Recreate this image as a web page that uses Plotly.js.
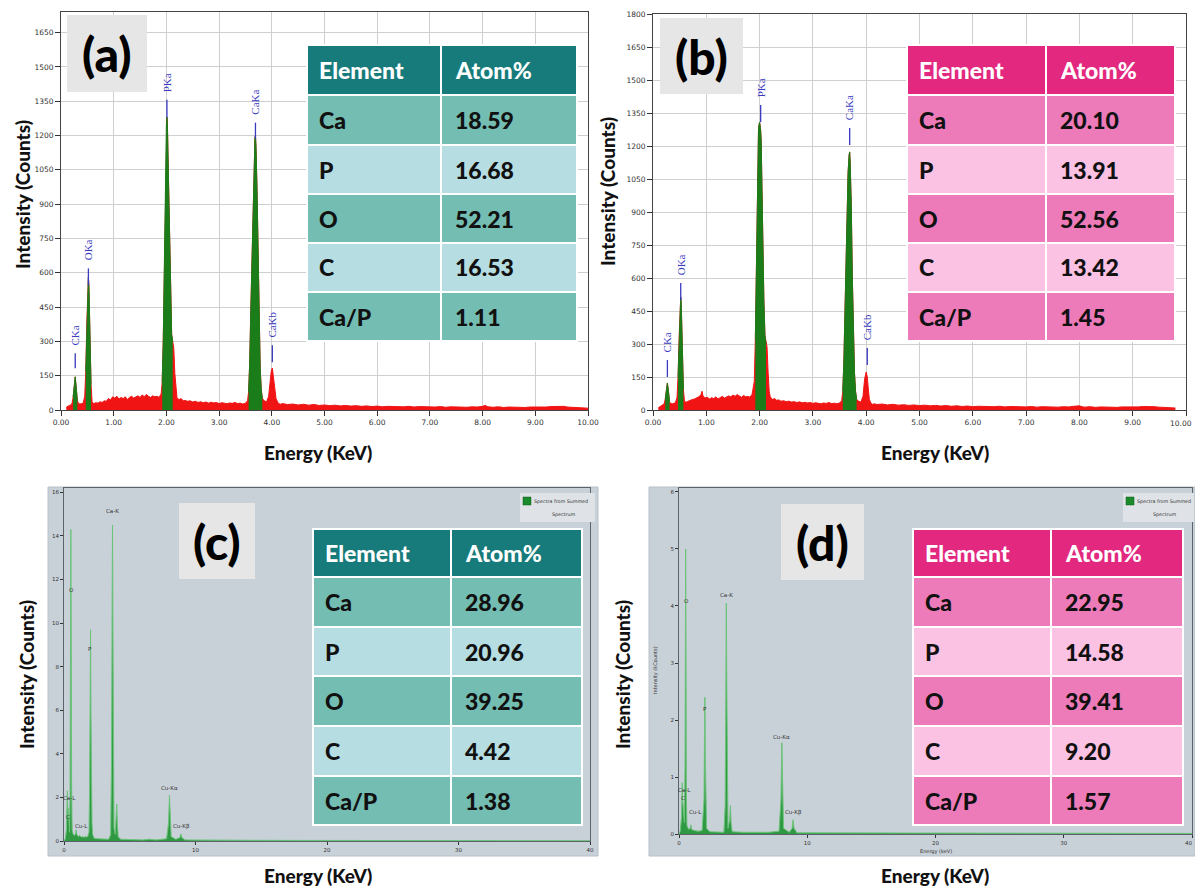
<!DOCTYPE html>
<html><head><meta charset="utf-8">
<script src="https://cdn.plot.ly/plotly-3.0.1.min.js"></script>
<style>body{margin:0;background:#fff}#chart{width:1195px;height:887px}</style>
</head><body><div id="chart"></div>
<script>
// ---------------- DATA ----------------
const elements = ['Ca','P','O','C','Ca/P'];
const tableHeader = ['Element','Atom%'];
const atomA = ['18.59','16.68','52.21','16.53','1.11'];
const atomB = ['20.10','13.91','52.56','13.42','1.45'];
const atomC = ['28.96','20.96','39.25','4.42','1.38'];
const atomD = ['22.95','14.58','39.41','9.20','1.57'];

// Panel (a) spectrum (keV, counts)
const energyA = [0.10,0.13,0.16,0.19,0.21,0.23,0.25,0.27,0.29,0.31,0.33,0.36,0.39,0.42,0.45,0.47,0.49,0.51,0.52,0.53,0.55,0.57,0.59,0.62,0.66,0.70,0.74,0.78,0.82,0.86,0.90,0.94,0.98,1.02,1.06,1.10,1.14,1.18,1.22,1.26,1.30,1.34,1.38,1.42,1.46,1.50,1.54,1.58,1.62,1.66,1.70,1.74,1.78,1.82,1.86,1.90,1.92,1.94,1.96,1.98,2.00,2.01,2.02,2.04,2.06,2.08,2.10,2.12,2.14,2.16,2.18,2.20,2.24,2.28,2.32,2.36,2.40,2.45,2.50,2.55,2.60,2.65,2.70,2.75,2.80,2.85,2.90,2.95,3.00,3.05,3.10,3.15,3.20,3.25,3.30,3.35,3.40,3.45,3.50,3.54,3.56,3.58,3.60,3.62,3.64,3.66,3.68,3.69,3.70,3.72,3.74,3.76,3.78,3.80,3.82,3.86,3.90,3.94,3.97,3.99,4.01,4.03,4.05,4.08,4.12,4.16,4.20,4.30,4.40,4.50,4.60,4.70,4.80,4.90,5.00,5.10,5.20,5.30,5.40,5.50,5.60,5.70,5.80,5.90,6.00,6.10,6.20,6.30,6.40,6.50,6.60,6.70,6.80,6.90,7.00,7.10,7.20,7.30,7.40,7.50,7.60,7.70,7.80,7.90,8.00,8.05,8.10,8.20,8.30,8.40,8.50,8.60,8.70,8.80,8.90,9.00,9.10,9.20,9.30,9.40,9.50,9.55,9.60,9.70,9.80,9.90,10.00];
const countsA = [12,18,20,22,30,55,100,145,95,40,30,26,28,30,60,170,380,520,580,540,300,110,35,28,32,30,36,33,40,38,50,44,58,52,60,48,55,50,58,46,55,60,52,57,62,55,66,58,68,60,55,62,58,60,55,70,120,300,620,1000,1250,1280,1240,1000,720,480,330,300,270,160,80,55,45,50,40,42,38,40,35,38,33,36,32,35,30,34,31,33,28,32,30,27,31,29,33,28,30,26,30,40,80,200,420,640,880,1080,1190,1200,1150,960,620,380,180,90,50,40,35,60,130,170,183,150,100,50,30,25,28,24,26,22,25,21,24,20,22,19,21,18,20,17,19,16,18,15,17,14,16,15,17,14,16,13,15,14,16,13,15,12,14,13,15,12,14,13,16,20,14,12,14,11,13,12,14,11,13,12,14,13,15,16,18,16,13,11,12,10,8];

// Panel (b) spectrum
const energyB = [0.10,0.13,0.16,0.19,0.21,0.23,0.25,0.27,0.29,0.31,0.33,0.36,0.39,0.42,0.45,0.47,0.49,0.51,0.52,0.53,0.55,0.57,0.59,0.62,0.66,0.70,0.74,0.78,0.82,0.86,0.90,0.92,0.94,0.98,1.02,1.06,1.10,1.14,1.18,1.22,1.26,1.30,1.34,1.38,1.42,1.46,1.50,1.54,1.58,1.62,1.66,1.70,1.74,1.78,1.82,1.86,1.90,1.92,1.94,1.96,1.98,2.00,2.02,2.03,2.04,2.06,2.08,2.10,2.12,2.14,2.16,2.18,2.20,2.24,2.28,2.32,2.36,2.40,2.45,2.50,2.55,2.60,2.65,2.70,2.75,2.80,2.85,2.90,2.95,3.00,3.05,3.10,3.15,3.20,3.25,3.30,3.35,3.40,3.45,3.50,3.54,3.56,3.58,3.60,3.62,3.64,3.66,3.68,3.69,3.70,3.72,3.74,3.76,3.78,3.80,3.82,3.86,3.90,3.94,3.97,4.00,4.02,4.04,4.06,4.09,4.12,4.16,4.20,4.30,4.40,4.50,4.60,4.70,4.80,4.90,5.00,5.10,5.20,5.30,5.40,5.50,5.60,5.70,5.80,5.90,6.00,6.10,6.20,6.30,6.40,6.50,6.60,6.70,6.80,6.90,7.00,7.10,7.20,7.30,7.40,7.50,7.60,7.70,7.80,7.90,8.00,8.05,8.10,8.20,8.30,8.40,8.50,8.60,8.70,8.80,8.90,9.00,9.10,9.20,9.30,9.40,9.50,9.60,9.70,9.80,9.90,10.00];
const countsB = [10,16,20,24,28,50,90,123,85,38,30,28,30,34,55,150,330,460,513,480,260,95,40,35,40,45,48,50,55,60,70,85,62,55,58,50,56,52,60,50,56,62,54,58,64,60,68,62,70,64,58,66,60,62,58,72,130,320,650,1050,1280,1309,1270,1220,1050,760,500,340,300,286,170,85,60,48,52,44,46,40,42,38,40,36,38,34,37,33,35,32,34,30,33,31,28,32,30,34,29,31,28,32,42,85,210,430,650,900,1080,1160,1173,1120,930,600,360,170,85,48,40,36,62,140,173,150,95,48,30,26,28,25,27,23,26,22,24,21,23,20,22,19,21,18,20,17,19,16,18,15,17,16,18,15,17,14,16,15,17,14,16,13,15,14,16,13,15,14,17,19,15,13,15,12,14,13,15,12,14,13,15,14,16,17,15,13,12,11,9];

// Panel (c) spectrum (keV, kCounts)
const energyC = [0.00,0.10,0.18,0.22,0.26,0.28,0.32,0.35,0.38,0.42,0.46,0.49,0.52,0.55,0.58,0.62,0.70,0.80,0.88,0.93,0.98,1.10,1.20,1.30,1.40,1.50,1.60,1.70,1.80,1.90,1.95,1.99,2.02,2.05,2.09,2.13,2.18,2.30,2.60,3.00,3.40,3.55,3.62,3.66,3.69,3.72,3.76,3.80,3.90,3.96,4.01,4.06,4.12,4.30,5.00,6.00,6.50,7.00,7.80,7.95,8.02,8.08,8.15,8.50,8.80,8.90,8.97,9.20,10.0,12.0,15.0,20.0,25.0,30.0,35.0,40.0];
const countsC = [0,0.1,0.5,1.2,2.3,1.6,1.0,1.5,0.6,0.4,2.0,8.0,14.3,9.0,2.5,0.5,0.3,0.25,0.35,0.5,0.3,0.2,0.25,0.18,0.2,0.17,0.2,0.18,0.2,0.4,2.5,7.5,9.7,6.0,2.0,0.8,0.3,0.12,0.1,0.09,0.08,0.3,4.0,11.0,14.5,10.0,3.0,0.6,0.3,1.0,1.7,0.8,0.2,0.08,0.06,0.05,0.08,0.05,0.1,0.8,2.1,1.2,0.2,0.08,0.15,0.32,0.15,0.05,0.04,0.04,0.03,0.02,0.02,0.01,0.01,0.01];

// Panel (d) spectrum (keV, kCounts)
const energyD = [0.00,0.10,0.20,0.25,0.28,0.32,0.36,0.42,0.47,0.50,0.52,0.55,0.58,0.62,0.75,0.88,0.93,0.98,1.20,1.50,1.80,1.95,1.99,2.02,2.05,2.09,2.15,2.40,3.00,3.50,3.60,3.65,3.69,3.72,3.76,3.82,3.95,4.01,4.06,4.15,5.0,6.0,7.0,7.8,7.95,8.02,8.08,8.15,8.6,8.82,8.90,8.97,9.2,10.0,15.0,20.0,25.0,30.0,40.0];
const countsD = [0,0.05,0.3,0.9,0.6,0.5,0.3,0.2,1.2,3.5,5.0,3.0,0.6,0.15,0.08,0.1,0.16,0.08,0.06,0.05,0.06,0.6,1.8,2.4,1.4,0.4,0.1,0.04,0.03,0.03,0.5,2.5,4.05,2.8,0.7,0.1,0.25,0.5,0.2,0.04,0.03,0.03,0.03,0.05,0.6,1.6,0.8,0.1,0.03,0.1,0.25,0.1,0.02,0.02,0.02,0.02,0.01,0.01,0.01];

// Peak-identified (green) windows for (a) and (b)
const peakWindowsA = [[0.22,0.32],[0.46,0.58],[1.92,2.12],[3.56,3.82]];
const peakWindowsB = [[0.22,0.32],[0.46,0.58],[1.92,2.12],[3.56,3.82]];

// Peak labels (a) and (b): name, energy, marker line bottom/top (counts)
const peakNamesAB = ['CKa','OKa','PKa','CaKa','CaKb'];
const peakEA = [0.27,0.52,2.01,3.69,4.01];
const markLoA = [183,545,1278,1186,209];
const markHiA = [248,619,1356,1256,283];
const peakEB = [0.27,0.52,2.02,3.69,4.02];
const markLoB = [150,500,1309,1205,205];
const markHiB = [227,577,1386,1282,282];

// Peak labels (c) and (d)
const peakNamesCD = ['Ca-K','O','P','Cu-Kα','Cu-Kβ','Ca-L','C','Cu-L'];
const peakLabEC = [3.7,0.6,2.0,8.0,8.9,0.45,0.3,1.3];
const peakLabYC = [14.9,11.3,8.6,2.2,0.4,1.75,0.85,0.45];
const peakLabED = [3.7,0.6,2.0,8.0,8.9,0.45,0.3,1.3];
const peakLabYD = [4.1,4.0,2.1,1.62,0.28,0.68,0.55,0.3];

// Tick labels drawn at the right edge (clipped by the page in the reference)
const edgeTickB = '10.00';
const edgeTickD = '40';

// ---------------- LAYOUT HELPERS ----------------
const W = 1195, H = 887;
const PX = x => x / W;
const PY = y => 1 - y / H;

const traces = [];
const shapes = [];
const annotations = [];

function addSpectrumAB(xa, ya, E, C, windows) {
  traces.push({x:E, y:C, type:'scatter', mode:'lines', fill:'tozeroy',
    line:{color:'#f01414', width:1}, fillcolor:'#f01414', xaxis:xa, yaxis:ya, hoverinfo:'skip'});
  windows.forEach(w => {
    const xs = [], ys = [];
    E.forEach((e,i) => { if (e >= w[0] && e <= w[1]) { xs.push(e); ys.push(C[i]); } });
    traces.push({x:xs, y:ys, type:'scatter', mode:'lines', fill:'tozeroy',
      line:{color:'#1a7d1a', width:1}, fillcolor:'#1a7d1a', xaxis:xa, yaxis:ya, hoverinfo:'skip'});
  });
}
function addPeakLabelsAB(xa, ya, names, E, lo, hi) {
  names.forEach((n,i) => {
    shapes.push({type:'line', xref:xa, yref:ya, x0:E[i], x1:E[i], y0:lo[i], y1:hi[i],
      line:{color:'#3a3ac0', width:1.3}});
    annotations.push({xref:xa, yref:ya, x:E[i], y:hi[i], yshift:6, text:n, textangle:-90,
      showarrow:false, xanchor:'center', yanchor:'bottom',
      font:{family:'Liberation Serif', size:11, color:'#3a3ac0'}});
  });
}
function addSpectrumCD(xa, ya, E, C) {
  traces.push({x:E, y:C, type:'scatter', mode:'lines', fill:'tozeroy',
    line:{color:'#6cc47a', width:1}, fillcolor:'rgba(30,145,50,0.9)', xaxis:xa, yaxis:ya, hoverinfo:'skip'});
}
function addPeakLabelsCD(xa, ya, names, E, Y) {
  names.forEach((n,i) => {
    annotations.push({xref:xa, yref:ya, x:E[i], y:Y[i], text:n, showarrow:false,
      xanchor:'center', yanchor:'bottom',
      font:{family:'DejaVu Sans', size:5.5, color:'#333'}});
  });
}
function addTable(x0, xs, x1, rowY, headerColor, dark, light, values) {
  const fills = [headerColor, dark, light, dark, light, dark];
  for (let r = 0; r < 6; r++) {
    [[x0, xs], [xs, x1]].forEach(([a,b]) => {
      shapes.push({type:'rect', xref:'paper', yref:'paper', x0:PX(a), x1:PX(b), y0:PY(rowY[r+1]), y1:PY(rowY[r]),
        fillcolor:fills[r], line:{color:'#ffffff', width:2}, layer:'above'});
    });
    const yc = PY((rowY[r] + rowY[r+1]) / 2);
    const left = r === 0 ? tableHeader[0] : elements[r-1];
    const right = r === 0 ? tableHeader[1] : values[r-1];
    const col = r === 0 ? '#ffffff' : '#111111';
    annotations.push({xref:'paper', yref:'paper', x:PX(x0 + 10), y:yc, text:left, showarrow:false,
      xanchor:'left', yanchor:'middle', font:{family:'Lato', size:23, weight:900, color:col}});
    annotations.push({xref:'paper', yref:'paper', x:PX(xs + 12), y:yc, text:right, showarrow:false,
      xanchor:'left', yanchor:'middle', font:{family:'Lato', size:23, weight:900, color:col}});
  }
}
function addPanelLabel(x0, x1, y0, y1, txt) {
  shapes.push({type:'rect', xref:'paper', yref:'paper', x0:PX(x0), x1:PX(x1), y0:PY(y1), y1:PY(y0),
    fillcolor:'#e6e6e6', line:{width:0}, layer:'above'});
  annotations.push({xref:'paper', yref:'paper', x:PX((x0+x1)/2), y:PY((y0+y1)/2), text:txt,
    showarrow:false, xanchor:'center', yanchor:'middle', font:{family:'Lato', size:48, weight:900, color:'#000'}});
}
function addBigTitles(cxI, cyI, cxE, cyE) {
  annotations.push({xref:'paper', yref:'paper', x:PX(cxI), y:PY(cyI), text:'Intensity (Counts)', textangle:-90,
    showarrow:false, xanchor:'center', yanchor:'middle', font:{family:'Lato', size:19, weight:900, color:'#111'}});
  annotations.push({xref:'paper', yref:'paper', x:PX(cxE), y:PY(cyE), text:'Energy (KeV)',
    showarrow:false, xanchor:'center', yanchor:'middle', font:{family:'Lato', size:19, weight:900, color:'#111'}});
}
function addLegendBox(x0, x1, y0, y1) {
  shapes.push({type:'rect', xref:'paper', yref:'paper', x0:PX(x0), x1:PX(x1), y0:PY(y1), y1:PY(y0),
    fillcolor:'#dfe3e7', line:{width:0}, layer:'above'});
  shapes.push({type:'rect', xref:'paper', yref:'paper', x0:PX(x0+3), x1:PX(x0+11), y0:PY(y0+12), y1:PY(y0+4),
    fillcolor:'#1a8a2a', line:{color:'#0c5a14', width:0.5}, layer:'above'});
  annotations.push({xref:'paper', yref:'paper', x:PX(x0+12), y:PY(y0+8), text:'Spectra from Summed', showarrow:false,
    xanchor:'left', yanchor:'middle', font:{family:'DejaVu Sans', size:4.8, color:'#333'}});
  annotations.push({xref:'paper', yref:'paper', x:PX((x0+x1)/2+6), y:PY(y0+21), text:'Spectrum', showarrow:false,
    xanchor:'center', yanchor:'middle', font:{family:'DejaVu Sans', size:4.8, color:'#333'}});
}

// ---------------- BUILD ----------------
shapes.push({type:'rect', xref:'paper', yref:'paper', x0:PX(48), x1:PX(598), y0:PY(856), y1:PY(487),
  fillcolor:'#c8d0d8', line:{color:'#b8c0c8', width:1}, layer:'below'});
shapes.push({type:'rect', xref:'paper', yref:'paper', x0:PX(649), x1:PX(1195), y0:PY(856), y1:PY(487),
  fillcolor:'#c8d0d8', line:{color:'#b8c0c8', width:1}, layer:'below'});

addSpectrumAB('x', 'y', energyA, countsA, peakWindowsA);
addSpectrumAB('x2', 'y2', energyB, countsB, peakWindowsB);
addSpectrumCD('x3', 'y3', energyC, countsC);
addSpectrumCD('x4', 'y4', energyD, countsD);

addPeakLabelsAB('x', 'y', peakNamesAB, peakEA, markLoA, markHiA);
addPeakLabelsAB('x2', 'y2', peakNamesAB, peakEB, markLoB, markHiB);
addPeakLabelsCD('x3', 'y3', peakNamesCD, peakLabEC, peakLabYC);
addPeakLabelsCD('x4', 'y4', peakNamesCD, peakLabED, peakLabYD);

addLegendBox(520, 595, 493, 522);
addLegendBox(1123, 1194, 493, 522);

const rowsAB = [45, 95, 145, 194, 243, 292, 341];
const rowsCD = [529, 577, 627, 676, 726, 776, 825];
addTable(307, 441, 577, rowsAB, '#187b7b', '#73bdb2', '#b5dde2', atomA);
addTable(907, 1046, 1175, rowsAB, '#e2287f', '#ee7bb9', '#fbc2e3', atomB);
addTable(313, 451, 582, rowsCD, '#187b7b', '#73bdb2', '#b5dde2', atomC);
addTable(913, 1051, 1183, rowsCD, '#e2287f', '#ee7bb9', '#fbc2e3', atomD);

addPanelLabel(67, 147, 15, 92, '(a)');
addPanelLabel(660, 743, 18, 94, '(b)');
addPanelLabel(179, 255, 503, 579, '(c)');
addPanelLabel(781, 864, 504, 580, '(d)');

addBigTitles(22, 195, 318, 452);
addBigTitles(607, 192, 935, 452);
addBigTitles(26, 675, 318, 875);
addBigTitles(622, 675, 935, 875);

annotations.push({xref:'paper', yref:'paper', x:PX(655), y:PY(670), text:'Intensity (kCounts)', textangle:-90, showarrow:false,
  xanchor:'center', yanchor:'middle', font:{family:'DejaVu Sans', size:5, color:'#333'}});
annotations.push({xref:'paper', yref:'paper', x:PX(936), y:PY(851), text:'Energy (keV)', showarrow:false,
  xanchor:'center', yanchor:'middle', font:{family:'DejaVu Sans', size:5, color:'#333'}});

// edge tick labels
annotations.push({xref:'paper', yref:'paper', x:PX(1194), y:PY(424), text:edgeTickB, showarrow:false,
  xanchor:'right', yanchor:'middle', font:{family:'DejaVu Sans', size:7.5, color:'#333'}});
annotations.push({xref:'paper', yref:'paper', x:PX(1194), y:PY(843), text:edgeTickD, showarrow:false,
  xanchor:'right', yanchor:'middle', font:{family:'DejaVu Sans', size:5.5, color:'#333'}});

const axAB = {showgrid:true, gridcolor:'#cfcfcf', gridwidth:1, ticks:'outside', ticklen:5, tickcolor:'#333',
  showline:true, linecolor:'#444', linewidth:1, mirror:true, zeroline:false,
  tickfont:{family:'DejaVu Sans', size:7.5, color:'#333'}};
const axCD = {showgrid:false, ticks:'outside', ticklen:3, tickcolor:'#333', showline:true, linecolor:'#5c636b',
  linewidth:1, mirror:true, zeroline:false, tickfont:{family:'DejaVu Sans', size:5.5, color:'#333'}};

const layout = {
  width: W, height: H, margin:{l:0, r:0, t:0, b:0},
  paper_bgcolor:'#ffffff', plot_bgcolor:'rgba(0,0,0,0)', showlegend:false,
  xaxis: Object.assign({}, axAB, {domain:[PX(61), PX(588)], range:[0,10], dtick:1, tick0:0, tickformat:'.2f', anchor:'y'}),
  yaxis: Object.assign({}, axAB, {domain:[PY(410), PY(12)], range:[0,1740], dtick:150, tick0:0, anchor:'x'}),
  xaxis2: Object.assign({}, axAB, {domain:[PX(653), PX(1186)], range:[0,10], dtick:1, tick0:0, tickformat:'.2f', anchor:'y2'}),
  yaxis2: Object.assign({}, axAB, {domain:[PY(410), PY(14)], range:[0,1800], dtick:150, tick0:0, anchor:'x2'}),
  xaxis3: Object.assign({}, axCD, {domain:[PX(64), PX(590)], range:[0,40], dtick:10, tick0:0, anchor:'y3'}),
  yaxis3: Object.assign({}, axCD, {domain:[PY(841), PY(488)], range:[0,16.2], dtick:2, tick0:0, anchor:'x3'}),
  xaxis4: Object.assign({}, axCD, {domain:[PX(679), PX(1192)], range:[0,40], dtick:10, tick0:0, anchor:'y4'}),
  yaxis4: Object.assign({}, axCD, {domain:[PY(834), PY(488)], range:[0,6.07], dtick:1, tick0:0, anchor:'x4'}),
  shapes: shapes,
  annotations: annotations
};

Plotly.newPlot('chart', traces, layout, {displayModeBar:false, staticPlot:true});
</script>
</body></html>
